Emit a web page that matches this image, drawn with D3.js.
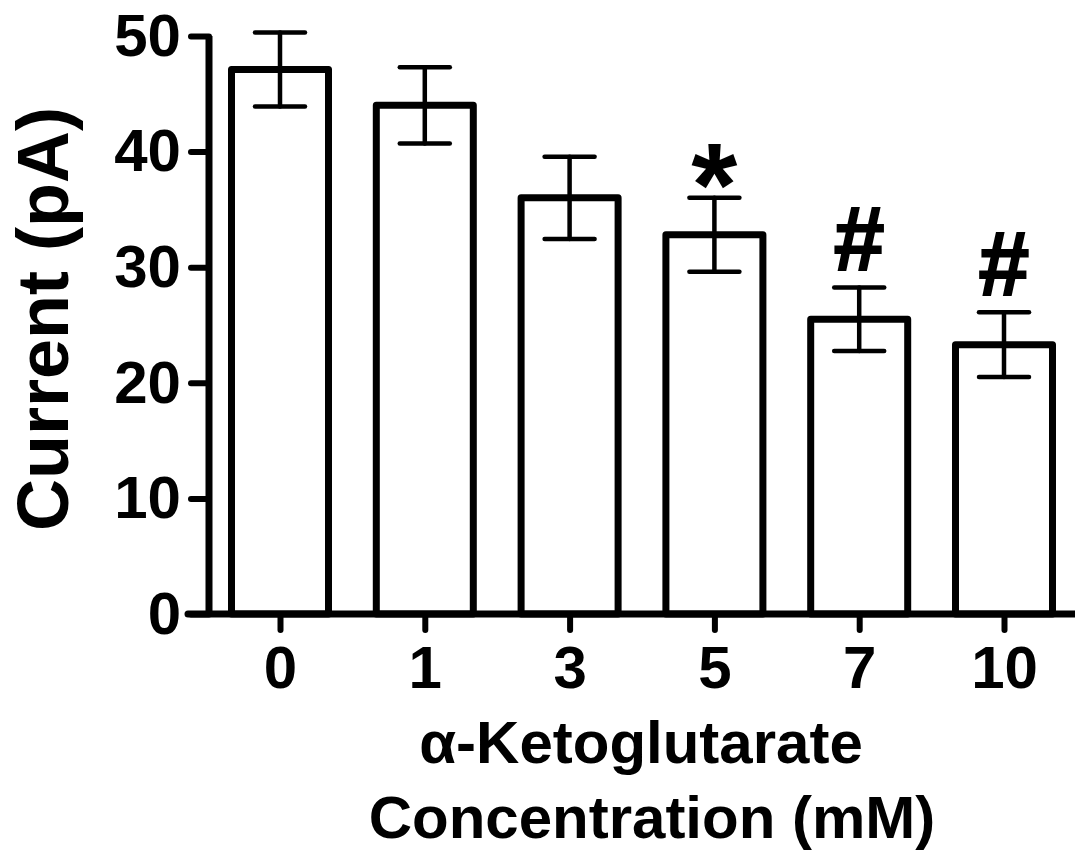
<!DOCTYPE html>
<html>
<head>
<meta charset="utf-8">
<script src="https://cdn.jsdelivr.net/npm/d3@7"></script>
<style>
  body { margin: 0; background: #fff; }
  svg { display: block; font-family: "Liberation Sans", Arial, sans-serif; font-weight: bold; }
</style>
</head>
<body>
<svg id="chart" width="1075" height="851"></svg>
<script>
// data (mean +/- SEM)
const categories = ["0", "1", "3", "5", "7", "10"];
const means = [47.1, 44.0, 36.0, 32.8, 25.5, 23.3];
const sems = [3.2, 3.3, 3.55, 3.2, 2.75, 2.8];
const marks = ["", "", "", "*", "#", "#"];
const yTicks = [0, 10, 20, 30, 40, 50];

const width = 1075, height = 851;
const axisX = 209, axisLeftEnd = 188;
const barW = 97;

const svg = d3.select("#chart");
svg.append("rect").attr("width", width).attr("height", height).attr("fill", "#fff");

const y = d3.scaleLinear().domain([0, 50]).range([614, 36]);
const x = d3.scalePoint().domain(categories).range([280, 1004]);

const data = categories.map((c, i) => ({cat: c, mean: means[i], sem: sems[i], mark: marks[i]}));

// bars
svg.append("g")
    .selectAll("rect")
    .data(data)
    .join("rect")
    .attr("x", d => x(d.cat) - barW / 2)
    .attr("y", d => y(d.mean))
    .attr("width", barW)
    .attr("height", d => y(0) - y(d.mean))
    .attr("fill", "#fff")
    .attr("stroke", "#000")
    .attr("stroke-width", 7)
    .attr("stroke-linejoin", "round");

// error bars
const err = svg.append("g")
    .attr("stroke", "#000")
    .attr("stroke-width", 4.5)
    .attr("stroke-linecap", "round");

err.selectAll(".stem")
    .data(data)
    .join("line")
    .attr("class", "stem")
    .attr("x1", d => x(d.cat)).attr("x2", d => x(d.cat))
    .attr("y1", d => y(d.mean + d.sem)).attr("y2", d => y(d.mean - d.sem));

const capHalf = 25;
[1, -1].forEach(s => {
    err.selectAll(".cap" + s)
        .data(data)
        .join("line")
        .attr("x1", d => x(d.cat) - capHalf).attr("x2", d => x(d.cat) + capHalf)
        .attr("y1", d => y(d.mean + s * d.sem)).attr("y2", d => y(d.mean + s * d.sem));
});

// y axis
const yAxis = svg.append("g")
    .attr("transform", `translate(${axisX},0)`)
    .call(d3.axisLeft(y).tickValues(yTicks).tickSize(axisX - axisLeftEnd - 3).tickSizeOuter(0).tickPadding(10));
yAxis.select(".domain").remove();
yAxis.selectAll(".tick line").attr("stroke", "#000").attr("stroke-width", 6).attr("stroke-linecap", "round");
yAxis.selectAll(".tick text").attr("fill", "#000").attr("font-size", 60).attr("font-family", null);

// x axis
const xAxis = svg.append("g")
    .attr("transform", `translate(0,${y(0)})`)
    .call(d3.axisBottom(x).tickSize(16).tickSizeOuter(0).tickPadding(15));
xAxis.select(".domain").remove();
xAxis.selectAll(".tick line").attr("stroke", "#000").attr("stroke-width", 6).attr("stroke-linecap", "round");
xAxis.selectAll(".tick text").attr("fill", "#000").attr("font-size", 60).attr("font-family", null);

// axis lines
svg.append("line")
    .attr("x1", axisX).attr("x2", axisX)
    .attr("y1", y(50)).attr("y2", y(0))
    .attr("stroke", "#000").attr("stroke-width", 7);
svg.append("line")
    .attr("x1", axisLeftEnd).attr("x2", width)
    .attr("y1", y(0)).attr("y2", y(0))
    .attr("stroke", "#000").attr("stroke-width", 7).attr("stroke-linecap", "round");

// significance marks, sized and placed by their ink box
const ctx = document.createElement("canvas").getContext("2d");
const markStyle = {"*": {ink: 45, gap: 7, weight: 0}, "#": {ink: 63, gap: 15, weight: 1.8}};
function inkBox(ch, size) {
    ctx.font = `bold ${size}px "Liberation Sans", Arial, sans-serif`;
    const m = ctx.measureText(ch);
    return {asc: m.actualBoundingBoxAscent, desc: m.actualBoundingBoxDescent};
}
data.filter(d => d.mark).forEach(d => {
    const st = markStyle[d.mark];
    const b100 = inkBox(d.mark, 100);
    const size = st.ink * 100 / (b100.asc + b100.desc);
    const b = inkBox(d.mark, size);
    const capTop = y(d.mean + d.sem) - 2;
    svg.append("text")
        .attr("x", x(d.cat))
        .attr("y", capTop - st.gap - b.desc)
        .attr("text-anchor", "middle")
        .attr("font-size", size)
        .attr("fill", "#000")
        .attr("stroke", "#000")
        .attr("stroke-width", st.weight)
        .text(d.mark);
});

// axis titles
svg.append("text")
    .attr("transform", "translate(68,319) rotate(-90)")
    .attr("text-anchor", "middle")
    .attr("font-size", 72)
    .text("Current (pA)");

svg.append("text")
    .attr("x", 641).attr("y", 763)
    .attr("text-anchor", "middle")
    .attr("font-size", 60)
    .text("α-Ketoglutarate");

svg.append("text")
    .attr("x", 652).attr("y", 838)
    .attr("text-anchor", "middle")
    .attr("font-size", 60)
    .text("Concentration (mM)");
</script>
</body>
</html>
